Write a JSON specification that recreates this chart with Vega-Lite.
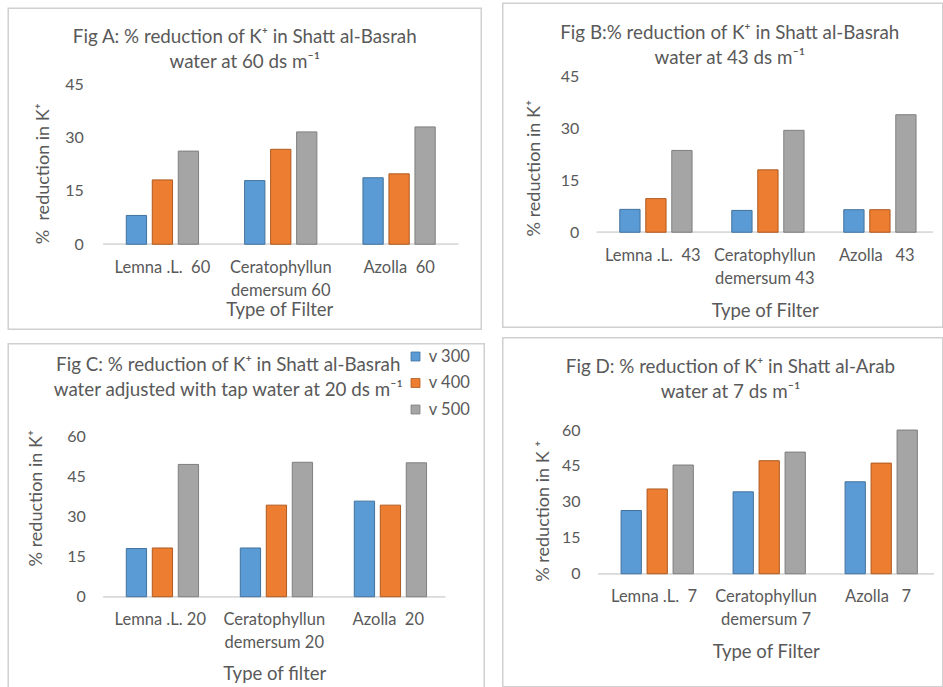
{
  "$schema": "https://vega.github.io/schema/vega-lite/v6.json",
  "background": "white",
  "padding": {"left": 7.25, "top": 2.25, "right": 0, "bottom": 0},
  "spacing": 16.5,
  "resolve": {"legend": {"color": "independent", "stroke": "independent"}},
  "hconcat": [
    {
      "spacing": 0,
      "resolve": {"legend": {"color": "independent", "stroke": "independent"}},
      "vconcat": [
        {"width": 10, "height": 4, "view": {"stroke": null}, "data": {"values": []}, "mark": {"type": "point", "opacity": 0}, "encoding": {}},
        {
          "spacing": 12.5,
          "resolve": {"legend": {"color": "independent", "stroke": "independent"}},
          "vconcat": [
            {
              "width": 473, "height": 321,
              "title": {"text": ["Fig A: % reduction of K⁺ in Shatt al-Basrah", "water at 60 ds m⁻¹"], "offset": -64, "dx": 0},
              "data": {"values": [
                {"filter": "Lemna .L.\u00a0 60", "series": "v 300", "value": 8.1},
                {"filter": "Lemna .L.\u00a0 60", "series": "v 400", "value": 18.1},
                {"filter": "Lemna .L.\u00a0 60", "series": "v 500", "value": 26.2},
                {"filter": "Ceratophyllun demersum 60", "series": "v 300", "value": 17.9},
                {"filter": "Ceratophyllun demersum 60", "series": "v 400", "value": 26.7},
                {"filter": "Ceratophyllun demersum 60", "series": "v 500", "value": 31.6},
                {"filter": "Azolla\u00a0 60", "series": "v 300", "value": 18.7},
                {"filter": "Azolla\u00a0 60", "series": "v 400", "value": 19.8},
                {"filter": "Azolla\u00a0 60", "series": "v 500", "value": 33.0}
              ]},
              "encoding": {
                "x": {"field": "filter", "type": "nominal", "sort": null,
                  "scale": {"paddingInner": 0, "paddingOuter": 0.4986, "align": 0.8051},
                  "axis": {"title": "Type of Filter", "offset": -85, "titleX": 271, "titleY": 65,
                    "labelExpr": "split(replace(datum.label, 'Ceratophyllun ', 'Ceratophyllun|'), '|')"}}
              },
              "layer": [
                {"mark": {"type": "tick", "orient": "horizontal", "size": 118.33, "thickness": 1.3, "color": "#D9D9D9"},
                 "encoding": {"y": {"datum": 0, "type": "quantitative", "title": "%\u00a0 reduction in K⁺"}}},
                {"mark": {"type": "bar", "strokeWidth": 1},
                 "encoding": {
                   "xOffset": {"field": "series", "type": "nominal", "scale": {"paddingInner": 0.22, "paddingOuter": 0.886}},
                   "y": {"field": "value", "type": "quantitative", "stack": null, "title": "%\u00a0 reduction in K⁺",
                     "scale": {"domain": [-23.906, 66.375], "nice": false, "zero": false},
                     "axis": {"values": [0, 15, 30, 45], "offset": -95, "labelPadding": 20, "titleX": -60, "titleY": 165}},
                   "y2": {"datum": 0},
                   "color": {"field": "series", "type": "nominal", "scale": {"domain": ["v 300", "v 400", "v 500"], "range": ["#5B9BD5", "#ED7D31", "#A5A5A5"]}, "legend": null},
                   "stroke": {"field": "series", "type": "nominal", "scale": {"domain": ["v 300", "v 400", "v 500"], "range": ["#41719C", "#AE5A21", "#7F7F7F"]}, "legend": null}
                 }}
              ]
            },
            {
              "width": 476, "height": 344,
              "title": {"text": ["Fig C: % reduction of K⁺ in Shatt al-Basrah", "water adjusted with tap water at 20 ds m⁻¹"], "offset": -56, "dx": -18},
              "data": {"values": [
                {"filter": "Lemna .L. 20", "series": "v 300", "value": 18.0},
                {"filter": "Lemna .L. 20", "series": "v 400", "value": 18.2},
                {"filter": "Lemna .L. 20", "series": "v 500", "value": 49.4},
                {"filter": "Ceratophyllun demersum 20", "series": "v 300", "value": 18.2},
                {"filter": "Ceratophyllun demersum 20", "series": "v 400", "value": 34.2},
                {"filter": "Ceratophyllun demersum 20", "series": "v 500", "value": 50.2},
                {"filter": "Azolla\u00a0 20", "series": "v 300", "value": 35.7},
                {"filter": "Azolla\u00a0 20", "series": "v 400", "value": 34.2},
                {"filter": "Azolla\u00a0 20", "series": "v 500", "value": 50.0}
              ]},
              "encoding": {
                "x": {"field": "filter", "type": "nominal", "sort": null,
                  "scale": {"paddingInner": 0, "paddingOuter": 0.5877, "align": 0.709},
                  "axis": {"title": "Type of filter", "offset": -91, "titleX": 266, "titleY": 77,
                    "labelExpr": "split(replace(datum.label, 'Ceratophyllun ', 'Ceratophyllun|'), '|')"}}
              },
              "layer": [
                {"mark": {"type": "tick", "orient": "horizontal", "size": 114, "thickness": 1.3, "color": "#D9D9D9"},
                 "encoding": {"y": {"datum": 0, "type": "quantitative", "title": "% reduction in K⁺"}}},
                {"mark": {"type": "bar", "strokeWidth": 1},
                 "encoding": {
                   "xOffset": {"field": "series", "type": "nominal", "scale": {"paddingInner": 0.25, "paddingOuter": 0.874}},
                   "y": {"field": "value", "type": "quantitative", "stack": null, "title": "% reduction in K⁺",
                     "scale": {"domain": [-33.98, 94.46], "nice": false, "zero": false},
                     "axis": {"values": [0, 15, 30, 45, 60], "offset": -95, "labelPadding": 18, "titleX": -67, "titleY": 154}},
                   "y2": {"datum": 0},
                   "color": {"field": "series", "type": "nominal", "scale": {"domain": ["v 300", "v 400", "v 500"], "range": ["#5B9BD5", "#ED7D31", "#A5A5A5"]},
                     "legend": {"orient": "none", "legendX": 399, "legendY": 4.5, "title": null, "symbolType": "square", "symbolSize": 81, "symbolStrokeWidth": 0.8, "symbolStrokeColor": "#6F6F6F", "labelFontSize": 16.5, "labelFont": "Lato", "labelColor": "#595959", "rowPadding": 9.5, "padding": 0, "labelOffset": 5}},
                   "stroke": {"field": "series", "type": "nominal", "scale": {"domain": ["v 300", "v 400", "v 500"], "range": ["#41719C", "#AE5A21", "#7F7F7F"]}, "legend": null}
                 }}
              ]
            }
          ]
        }
      ]
    },
    {
      "spacing": 8.5,
      "resolve": {"legend": {"color": "independent", "stroke": "independent"}},
      "vconcat": [
        {
          "width": 440, "height": 324,
          "title": {"text": ["Fig B:% reduction of K⁺ in Shatt al-Basrah", "water at 43 ds m⁻¹"], "offset": -65, "dx": 7},
          "data": {"values": [
            {"filter": "Lemna .L.\u00a0 43", "series": "v 300", "value": 6.6},
            {"filter": "Lemna .L.\u00a0 43", "series": "v 400", "value": 9.7},
            {"filter": "Lemna .L.\u00a0 43", "series": "v 500", "value": 23.6},
            {"filter": "Ceratophyllun demersum 43", "series": "v 300", "value": 6.3},
            {"filter": "Ceratophyllun demersum 43", "series": "v 400", "value": 18.0},
            {"filter": "Ceratophyllun demersum 43", "series": "v 500", "value": 29.4},
            {"filter": "Azolla\u00a0\u00a0 43", "series": "v 300", "value": 6.5},
            {"filter": "Azolla\u00a0\u00a0 43", "series": "v 400", "value": 6.5},
            {"filter": "Azolla\u00a0\u00a0 43", "series": "v 500", "value": 33.9}
          ]},
          "encoding": {
            "x": {"field": "filter", "type": "nominal", "sort": null,
              "scale": {"paddingInner": 0, "paddingOuter": 0.4643, "align": 0.9038},
              "axis": {"title": "Type of Filter", "offset": -95, "titleX": 262, "titleY": 78,
                "labelExpr": "split(replace(datum.label, 'Ceratophyllun ', 'Ceratophyllun|'), '|')"}}
          },
          "layer": [
            {"mark": {"type": "tick", "orient": "horizontal", "size": 112, "thickness": 1.3, "color": "#D9D9D9"},
             "encoding": {"y": {"datum": 0, "type": "quantitative", "title": "% reduction in K⁺"}}},
            {"mark": {"type": "bar", "strokeWidth": 1},
             "encoding": {
               "xOffset": {"field": "series", "type": "nominal", "scale": {"paddingInner": 0.255, "paddingOuter": 0.895}},
               "y": {"field": "value", "type": "quantitative", "stack": null, "title": "% reduction in K⁺",
                 "scale": {"domain": [-27.404, 66.058], "nice": false, "zero": false},
                 "axis": {"values": [0, 15, 30, 45], "offset": -94, "labelPadding": 18, "titleX": -62, "titleY": 164.5}},
               "y2": {"datum": 0},
               "color": {"field": "series", "type": "nominal", "scale": {"domain": ["v 300", "v 400", "v 500"], "range": ["#5B9BD5", "#ED7D31", "#A5A5A5"]}, "legend": null},
               "stroke": {"field": "series", "type": "nominal", "scale": {"domain": ["v 300", "v 400", "v 500"], "range": ["#41719C", "#AE5A21", "#7F7F7F"]}, "legend": null}
             }}
          ]
        },
        {
          "width": 440, "height": 349,
          "title": {"text": ["Fig D: % reduction of K⁺ in Shatt al-Arab", "water at 7 ds m⁻¹"], "offset": -64, "dx": 7.7},
          "data": {"values": [
            {"filter": "Lemna .L.\u00a0 7", "series": "v 300", "value": 26.4},
            {"filter": "Lemna .L.\u00a0 7", "series": "v 400", "value": 35.4},
            {"filter": "Lemna .L.\u00a0 7", "series": "v 500", "value": 45.4},
            {"filter": "Ceratophyllun demersum 7", "series": "v 300", "value": 34.2},
            {"filter": "Ceratophyllun demersum 7", "series": "v 400", "value": 47.2},
            {"filter": "Ceratophyllun demersum 7", "series": "v 500", "value": 50.8},
            {"filter": "Azolla\u00a0\u00a0 7", "series": "v 300", "value": 38.4},
            {"filter": "Azolla\u00a0\u00a0 7", "series": "v 400", "value": 46.2},
            {"filter": "Azolla\u00a0\u00a0 7", "series": "v 500", "value": 60.0}
          ]},
          "encoding": {
            "x": {"field": "filter", "type": "nominal", "sort": null,
              "scale": {"paddingInner": 0, "paddingOuter": 0.4643, "align": 0.9163},
              "axis": {"title": "Type of Filter", "offset": -113, "titleX": 263, "titleY": 78,
                "labelExpr": "split(replace(datum.label, 'Ceratophyllun ', 'Ceratophyllun|'), '|')"}}
          },
          "layer": [
            {"mark": {"type": "tick", "orient": "horizontal", "size": 112, "thickness": 1.3, "color": "#D9D9D9"},
             "encoding": {"y": {"datum": 0, "type": "quantitative", "title": "% reduction in K ⁺"}}},
            {"mark": {"type": "bar", "strokeWidth": 1},
             "encoding": {
               "xOffset": {"field": "series", "type": "nominal", "scale": {"paddingInner": 0.235, "paddingOuter": 0.871}},
               "y": {"field": "value", "type": "quantitative", "stack": null, "title": "% reduction in K ⁺",
                 "scale": {"domain": [-47.18, 98.54], "nice": false, "zero": false},
                 "axis": {"values": [0, 15, 30, 45, 60], "offset": -95.3, "labelPadding": 18, "titleX": -54.5, "titleY": 173}},
               "y2": {"datum": 0},
               "color": {"field": "series", "type": "nominal", "scale": {"domain": ["v 300", "v 400", "v 500"], "range": ["#5B9BD5", "#ED7D31", "#A5A5A5"]}, "legend": null},
               "stroke": {"field": "series", "type": "nominal", "scale": {"domain": ["v 300", "v 400", "v 500"], "range": ["#41719C", "#AE5A21", "#7F7F7F"]}, "legend": null}
             }}
          ]
        }
      ]
    }
  ],
  "config": {
    "font": "Lato",
    "view": {"stroke": "#D0D0D0", "strokeWidth": 1.5},
    "axis": {"grid": false, "domain": false, "ticks": false, "labelFont": "Lato", "titleFont": "Lato", "labelColor": "#595959", "titleColor": "#595959", "labelFontSize": 16, "titleFontWeight": "normal"},
    "axisX": {"labelAngle": 0, "labelBaseline": "top", "labelPadding": 15, "labelLineHeight": 23, "labelFontSize": 16.5, "titleFontSize": 18.5, "titleBaseline": "middle", "titleAlign": "center", "titleAngle": 0, "labelOverlap": false},
    "axisY": {"titleFontSize": 18, "titleAngle": -90, "titleBaseline": "middle", "titleAlign": "center", "labelBaseline": "middle", "labelAlign": "right"},
    "title": {"font": "Lato", "fontSize": 18.8, "fontWeight": "normal", "color": "#595959", "anchor": "middle", "frame": "group", "baseline": "top", "lineHeight": 25}
  }
}
